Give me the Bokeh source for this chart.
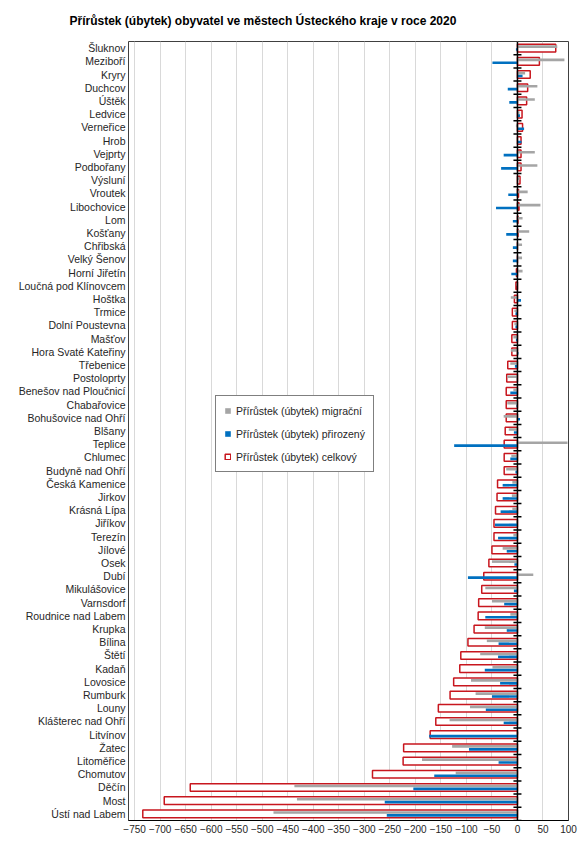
from bokeh.plotting import figure
from bokeh.models import (ColumnDataSource, FactorRange, Range1d, FixedTicker, Span,
                          Legend, LegendItem)
from bokeh.transform import dodge
from bokeh.embed import file_html
from bokeh.resources import INLINE

title = "Přírůstek (úbytek) obyvatel ve městech Ústeckého kraje v roce 2020"

cities = ["Šluknov", "Meziboří", "Kryry", "Duchcov", "Úštěk", "Ledvice", "Verneřice", "Hrob",
          "Vejprty", "Podbořany", "Výsluní", "Vroutek", "Libochovice", "Lom", "Košťany",
          "Chřibská", "Velký Šenov", "Horní Jiřetín", "Loučná pod Klínovcem", "Hoštka", "Trmice",
          "Dolní Poustevna", "Mašťov", "Hora Svaté Kateřiny", "Třebenice", "Postoloprty",
          "Benešov nad Ploučnicí", "Chabařovice", "Bohušovice nad Ohří", "Blšany", "Teplice",
          "Chlumec", "Budyně nad Ohří", "Česká Kamenice", "Jirkov", "Krásná Lípa", "Jiříkov",
          "Terezín", "Jílové", "Osek", "Dubí", "Mikulášovice", "Varnsdorf", "Roudnice nad Labem",
          "Krupka", "Bílina", "Štětí", "Kadaň", "Lovosice", "Rumburk", "Louny",
          "Klášterec nad Ohří", "Litvínov", "Žatec", "Litoměřice", "Chomutov", "Děčín", "Most",
          "Ústí nad Labem"]

migracni = [78, 92, 15, 39, 34, 4, -3, -1, 34, 39, 4, 20, 45, 10, 23, 9, 9, 10, -2, -13, -6,
            -6, -8, -13, -14, -20, -8, -20, -27, -17, 98, -12, -22, -10, -11, -10, -2, -8, -29,
            -50, 31, -63, -50, -14, -64, -60, -73, -49, -91, -82, -93, -133, 2, -128, -187,
            -121, -437, -432, -478]

prirozeny = [-3, -49, 10, -19, -16, 5, 13, 8, -27, -32, 1, -18, -42, -9, -22, -9, -9, -12, -1,
             7, -4, -4, -3, 2, -5, -1, -14, -2, 5, -7, -124, -14, -4, -29, -29, -33, -44, -38,
             -21, -6, -97, -7, -26, -63, -21, -37, -38, -64, -34, -50, -62, -27, -173, -95, -37,
             -163, -204, -260, -256]

celkovy = [75, 43, 25, 20, 18, 9, 10, 7, 7, 7, 5, 2, 3, 1, 1, 0, 0, -2, -3, -6, -10, -10, -11,
           -11, -19, -21, -22, -22, -22, -24, -26, -26, -26, -39, -40, -43, -46, -46, -50, -56,
           -66, -70, -76, -77, -85, -97, -111, -113, -125, -132, -155, -160, -171, -223, -224,
           -284, -641, -692, -734]

x_ticks = list(range(-750, 101, 50))
series_names = ["Přírůstek (úbytek) migrační", "Přírůstek (úbytek) přirozený",
                "Přírůstek (úbytek) celkový"]

FONT = "Liberation Sans"
TXT = "#262626"

src = ColumnDataSource(dict(city=cities, mig=migracni, nat=prirozeny, tot=celkovy))

p = figure(width=586, height=848, output_backend="svg", toolbar_location=None,
           y_range=FactorRange(*reversed(cities)), x_range=Range1d(-762, 100),
           min_border_left=128, min_border_right=18, min_border_top=41, min_border_bottom=28)

p.title.text = title
p.title.text_font = FONT
p.title.text_font_size = "12px"
p.title.text_font_style = "bold"
p.title.text_color = "black"
p.title.align = "left"
p.title.offset = -59
p.title.vertical_align = "top"
p.title.standoff = 24

p.outline_line_color = "#404040"
p.outline_line_width = 1

p.xgrid.ticker = FixedTicker(ticks=x_ticks)
p.xgrid.grid_line_color = "#d9d9d9"
p.xgrid.grid_line_width = 1
p.ygrid.grid_line_color = None

p.xaxis.ticker = FixedTicker(ticks=x_ticks)
p.xaxis.major_label_text_font = FONT
p.xaxis.major_label_text_font_size = "10px"
p.xaxis.major_label_text_color = TXT
p.xaxis.axis_line_color = "black"
p.xaxis.major_tick_in = 0
p.xaxis.major_tick_out = 0
p.xaxis.minor_tick_line_color = None
p.xaxis.major_label_standoff = 4

p.yaxis.major_label_text_font = FONT
p.yaxis.major_label_text_font_size = "10.5px"
p.yaxis.major_label_text_color = TXT
p.yaxis.axis_line_color = None
p.yaxis.major_tick_line_color = None
p.yaxis.major_tick_in = 0
p.yaxis.major_tick_out = 0
p.yaxis.major_label_standoff = 3

r_tot = p.hbar(y="city", left=0, right="tot", height=0.58, source=src,
               fill_color="white", line_color="#C8161E", line_width=1.5)
r_mig = p.hbar(y=dodge("city", 0.11, range=p.y_range), left=0, right="mig", height=0.2,
               source=src, fill_color="#A5A5A5", line_color=None)
r_nat = p.hbar(y=dodge("city", -0.11, range=p.y_range), left=0, right="nat", height=0.2,
               source=src, fill_color="#0070C0", line_color=None)

p.add_layout(Span(location=0, dimension="height", line_color="black", line_width=1.5))
p.scatter(x=0, y=dodge("city", -0.5, range=p.y_range), source=src, marker="dash", size=8,
          line_color="black", line_width=1.5)

legend = Legend(items=[LegendItem(label=series_names[0], renderers=[r_mig]),
                       LegendItem(label=series_names[1], renderers=[r_nat]),
                       LegendItem(label=series_names[2], renderers=[r_tot])],
                location=(87, 348), orientation="vertical",
                label_text_font=FONT, label_text_font_size="10.5px", label_text_color=TXT,
                glyph_width=7, glyph_height=7, label_height=13, spacing=10, padding=8,
                label_standoff=5, margin=0, border_line_color="black", border_line_width=1,
                background_fill_color="white", background_fill_alpha=1.0)
p.add_layout(legend)

open("out.html", "w").write(file_html(p, INLINE))
